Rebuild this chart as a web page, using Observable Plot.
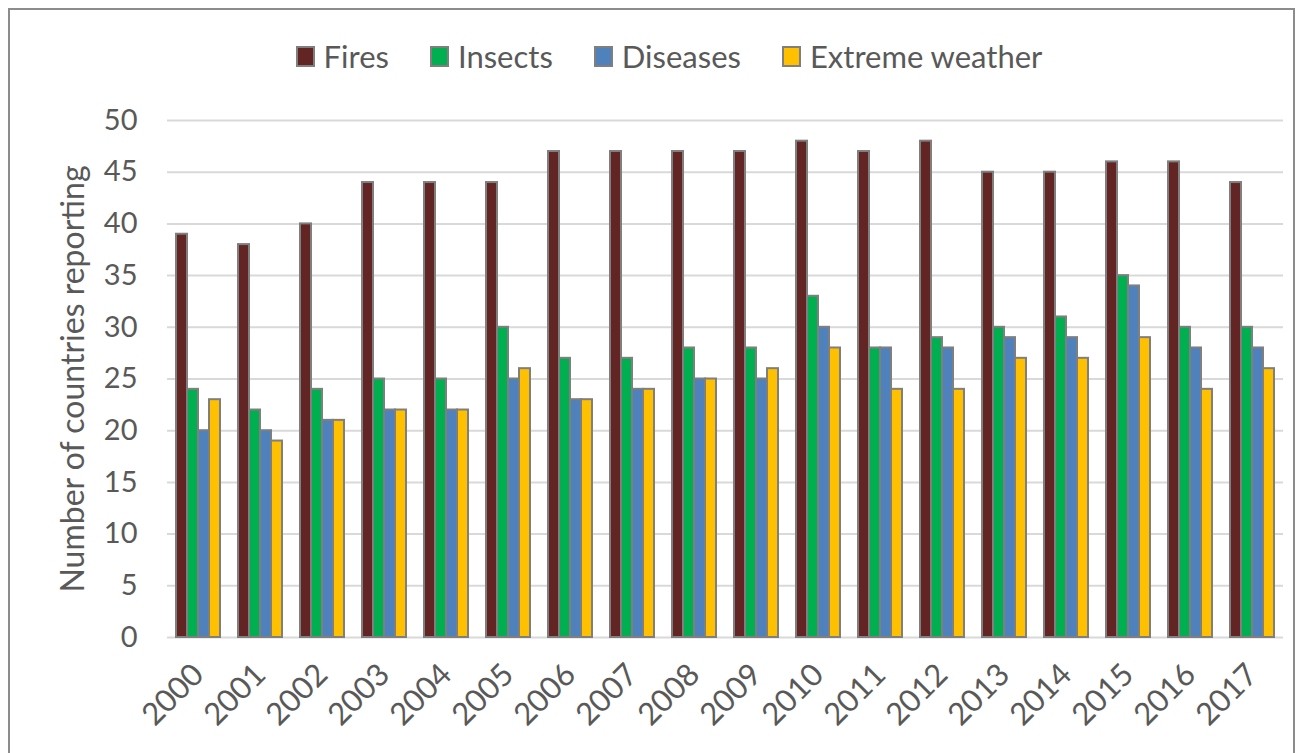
<!DOCTYPE html>
<html>
<head>
<meta charset="utf-8">
<script src="https://cdn.jsdelivr.net/npm/d3@7"></script>
<script src="https://cdn.jsdelivr.net/npm/@observablehq/plot@0.6"></script>
<style>
  html, body { margin: 0; padding: 0; background: #fff; }
  body { width: 1300px; height: 753px; overflow: hidden; position: relative; font-family: Lato, "Noto Sans", sans-serif; }
  #frame { position: absolute; left: 8px; top: 8px; width: 1287px; height: 760px; border: 2px solid #8c8c8c; box-sizing: border-box; }
  #legend { position: absolute; left: 0; top: 34px; width: 1300px; height: 44px; display: flex; justify-content: center; align-items: center; gap: 41px; color: #595959; font-size: 31px; padding-left: 38px; box-sizing: border-box; }
  .item { display: flex; align-items: center; }
  .sw { width: 15px; height: 17px; border: 2px solid #7f7f7f; margin-right: 9px; }
  #chart { position: absolute; left: 0; top: 100px; }
</style>
</head>
<body>
<div id="frame"></div>
<div id="legend"></div>
<div id="chart"></div>
<script>
const years = ["2000","2001","2002","2003","2004","2005","2006","2007","2008","2009","2010","2011","2012","2013","2014","2015","2016","2017"];
const seriesNames = ["Fires", "Insects", "Diseases", "Extreme weather"];
const fires    = [39, 38, 40, 44, 44, 44, 47, 47, 47, 47, 48, 47, 48, 45, 45, 46, 46, 44];
const insects  = [24, 22, 24, 25, 25, 30, 27, 27, 28, 28, 33, 28, 29, 30, 31, 35, 30, 30];
const diseases = [20, 20, 21, 22, 22, 25, 23, 24, 25, 25, 30, 28, 28, 29, 29, 34, 28, 28];
const extreme  = [23, 19, 21, 22, 22, 26, 23, 24, 25, 26, 28, 24, 24, 27, 27, 29, 24, 26];
const colors = ["#632523", "#00b050", "#4f81bd", "#ffc000"];
const yTicks = [0, 5, 10, 15, 20, 25, 30, 35, 40, 45, 50];
const yLabel = "Number of countries reporting";

const seriesValues = [fires, insects, diseases, extreme];
const data = years.flatMap((yr, i) => seriesNames.map((s, j) => ({year: yr, series: s, value: seriesValues[j][i]})));

// Legend
const legend = document.getElementById("legend");
seriesNames.forEach((s, j) => {
  const it = document.createElement("div");
  it.className = "item";
  const sw = document.createElement("div");
  sw.className = "sw";
  sw.style.background = colors[j];
  const t = document.createElement("span");
  t.textContent = s;
  it.appendChild(sw); it.appendChild(t);
  legend.appendChild(it);
});

const chart = Plot.plot({
  width: 1300,
  height: 653,
  marginTop: 20,
  marginBottom: 116,
  marginLeft: 162,
  marginRight: 13,
  style: {fontFamily: "Lato, 'Noto Sans', sans-serif", color: "#595959", background: "transparent", overflow: "visible"},
  fx: {domain: years, padding: 0, label: null},
  x: {domain: seriesNames, paddingInner: 0, paddingOuter: 0.72, axis: null},
  y: {domain: [0, 50]},
  color: {domain: seriesNames, range: colors},
  marks: [
    Plot.gridY(yTicks, {stroke: "#d9d9d9", strokeOpacity: 1, strokeWidth: 2}),
    Plot.barY(data, {fx: "year", x: "series", y: "value", fill: "series", stroke: "#7f7f7f", strokeWidth: 2}),
    Plot.axisY(yTicks, {tickSize: 0, tickPadding: 30, fontSize: 29, label: null}),
    Plot.axisY({tickSize: 0, ticks: [], fontSize: 32, label: yLabel, labelAnchor: "center", labelArrow: "none", labelOffset: 106}),
    Plot.axisFx({anchor: "bottom", tickRotate: -45, tickSize: 0, tickPadding: 32, fontSize: 31, label: null})
  ]
});
document.getElementById("chart").appendChild(chart);
</script>
</body>
</html>
